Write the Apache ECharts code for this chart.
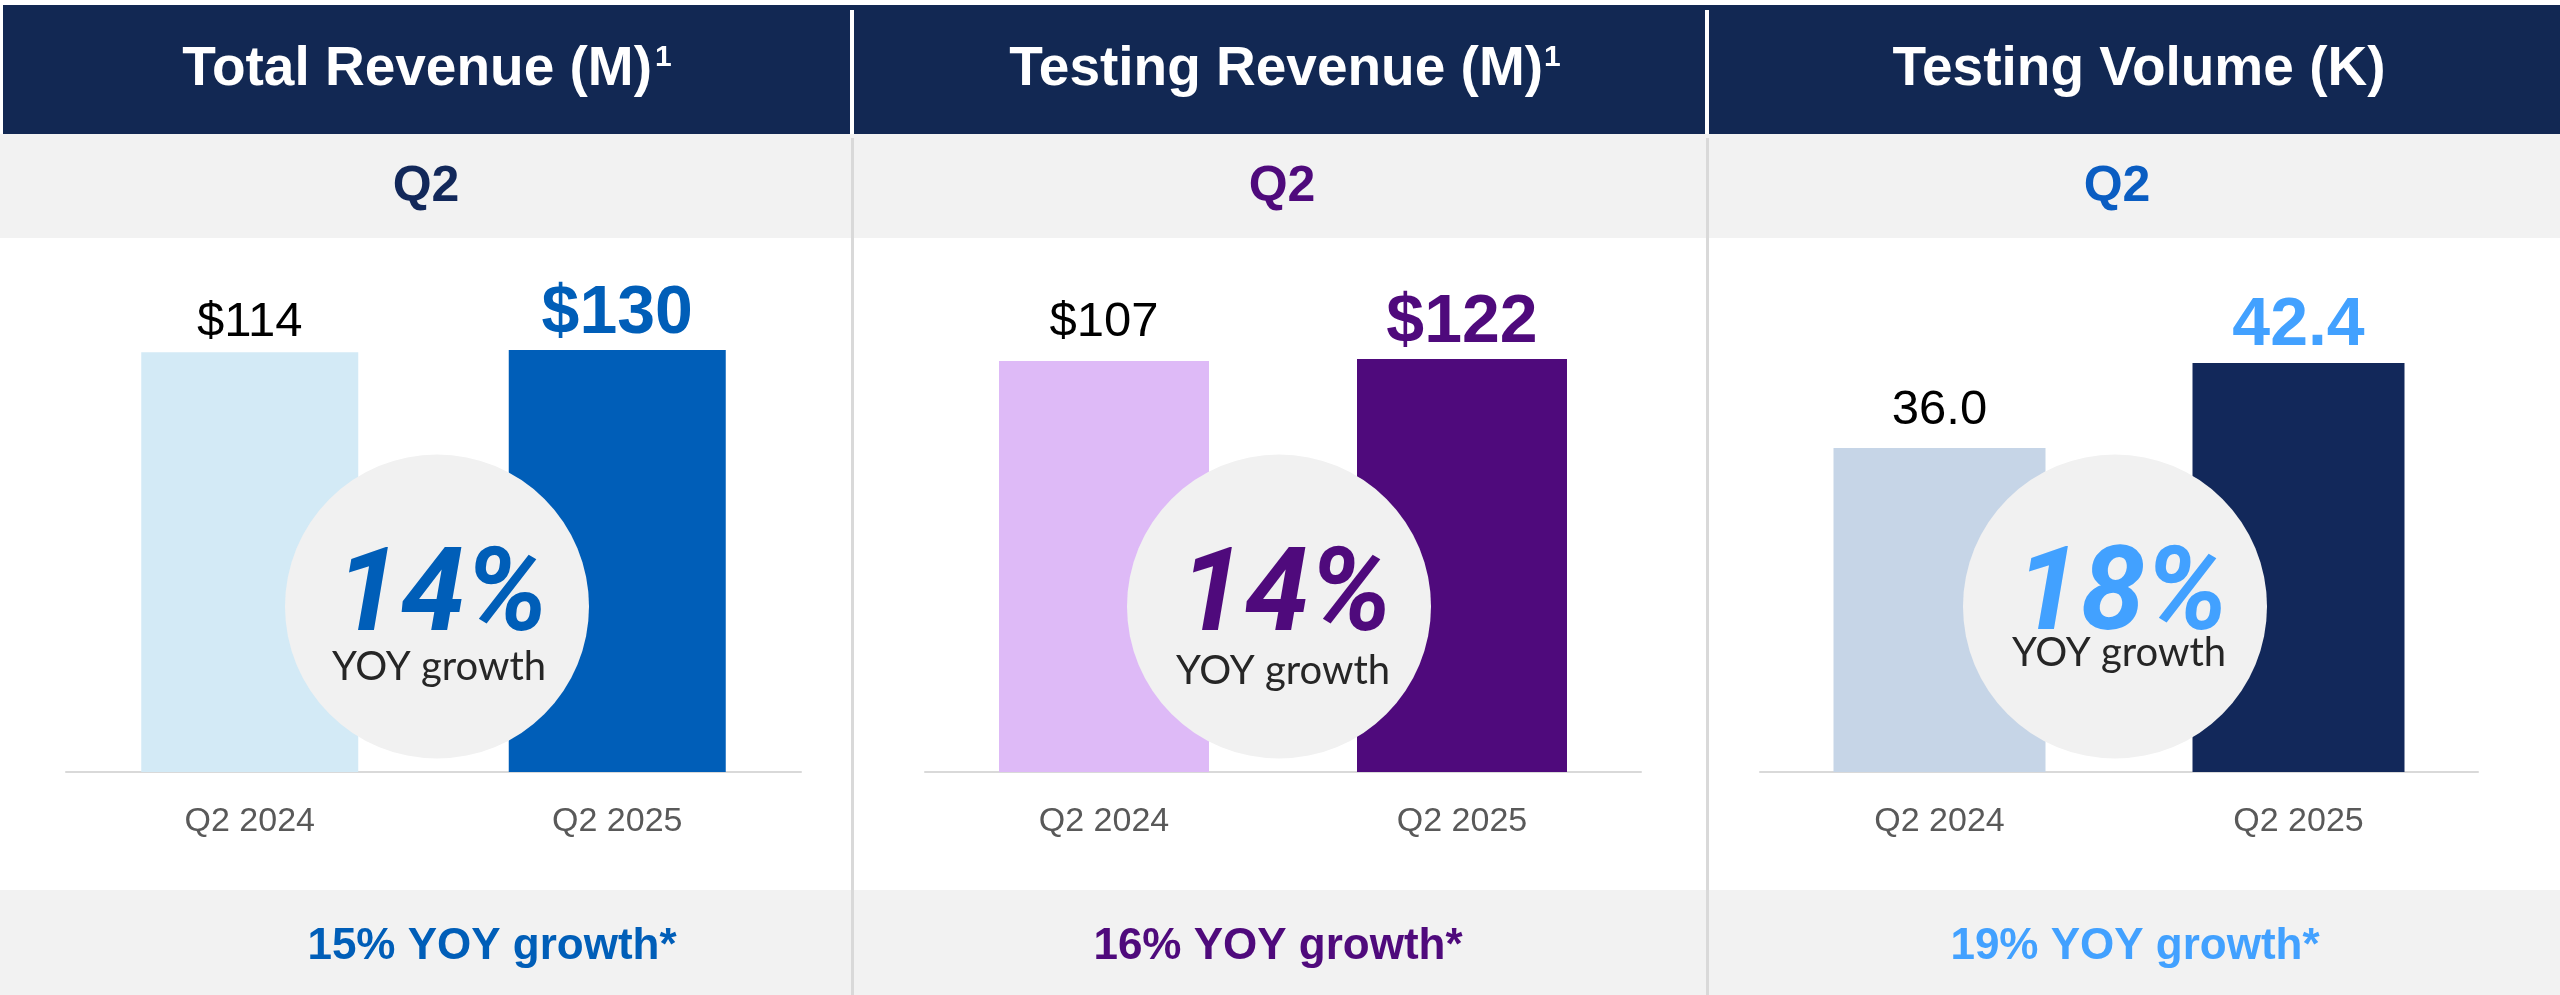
<!DOCTYPE html>
<html><head><meta charset="utf-8">
<script src="https://cdn.jsdelivr.net/npm/echarts@6/dist/echarts.min.js"></script>
<style>html,body{margin:0;padding:0;background:#fff}#c{width:2560px;height:995px}</style>
</head><body><div id="c"></div>
<script>
// ---- data ----
const categories = ['Q2 2024', 'Q2 2025'];
const totalRevenue = [114, 130];
const testingRevenue = [107, 122];
const testingVolume = [36.0, 42.4];
const panelTitles = ['Total Revenue (M)', 'Testing Revenue (M)', 'Testing Volume (K)'];
const titleNotes = ['1', '1', ''];
const periodLabels = ['Q2', 'Q2', 'Q2'];
const quarterGrowth = ['14%', '14%', '18%'];
const growthCaption = 'YOY growth';
const footerGrowth = ['15% YOY growth*', '16% YOY growth*', '19% YOY growth*'];
const valuePrefix = ['$', '$', ''];
const valueDecimals = [0, 0, 1];
const panelData = [totalRevenue, testingRevenue, testingVolume];

// ---- layout / style ----
const FONT = '"Liberation Sans", Arial, Helvetica, sans-serif';
const panels = [
  {gridL: 66, gridW: 735, gridTop: 350, yMin: -3000, barW: 217,
   colors: ['#D3EAF6', '#005EB8'], accent: '#005EB8', qColor: '#12285A', labelDist: [5, 2],
   titleX: 427, supPad: 3, qX: 426, cx: 437, pctX: 442, pctY: 601, capY: 667, footX: 492},
  {gridL: 925, gridW: 716, gridTop: 359, yMin: -3000, barW: 210,
   colors: ['#DEBAF7', '#4F0A7C'], accent: '#4F0A7C', qColor: '#4F0A7C', labelDist: [14, 2],
   titleX: 1285, supPad: 1, qX: 1282, cx: 1279, pctX: 1286, pctY: 601, capY: 671, footX: 1278},
  {gridL: 1760, gridW: 718, gridTop: 363, yMin: 11.6, barW: 212,
   colors: ['#C6D5E7', '#12285A'], accent: '#42A1FF', qColor: '#0A5DC2', labelDist: [13, 3],
   titleX: 2139, supPad: 0, qX: 2117, cx: 2115, pctX: 2122, pctY: 600, capY: 653, footX: 2135}
];
const BASE_Y = 772;   // baseline of bars
const H = 995, W = 2560;
const SMALL_LABEL = 49, BIG_LABEL = 68;

const grids = [], xAxes = [], yAxes = [], series = [], graphics = [];

// backgrounds
graphics.push({type: 'rect', z: 0, shape: {x: 3, y: 5, width: W - 3, height: 129}, style: {fill: '#122853'}, silent: true});
graphics.push({type: 'rect', z: 0, shape: {x: 0, y: 134, width: W, height: 104}, style: {fill: '#F2F2F2'}, silent: true});
graphics.push({type: 'rect', z: 0, shape: {x: 0, y: 890, width: W, height: 105}, style: {fill: '#F2F2F2'}, silent: true});
[850, 1705].forEach(x => {
  graphics.push({type: 'rect', z: 1, shape: {x: x, y: 10, width: 4, height: 124}, style: {fill: '#FFFFFF'}, silent: true});
  graphics.push({type: 'rect', z: 1, shape: {x: x + 1, y: 138, width: 3, height: H - 138}, style: {fill: '#D9D9D9'}, silent: true});
});

function barRenderer(i) {
  const p = panels[i];
  return function (params, api) {
    const j = params.dataIndex;
    const idx = api.value(0), v = api.value(1);
    const top = api.coord([idx, v]);
    const base = api.coord([idx, p.yMin]);
    const big = j === 1;
    return {
      type: 'group',
      children: [
        {type: 'rect', shape: {x: top[0] - p.barW / 2, y: top[1], width: p.barW, height: base[1] - top[1]},
         style: {fill: p.colors[j]}},
        {type: 'text', x: top[0], y: top[1] - p.labelDist[j],
         style: {text: valuePrefix[i] + Number(v).toFixed(valueDecimals[i]), align: 'center', verticalAlign: 'bottom',
                 fontSize: big ? BIG_LABEL : SMALL_LABEL, fontWeight: big ? 'bold' : 'normal', fontFamily: FONT,
                 fill: big ? p.accent : '#000000'}}
      ]
    };
  };
}

panels.forEach((p, i) => {
  const data = panelData[i];
  grids.push({left: p.gridL, width: p.gridW, top: p.gridTop, bottom: H - BASE_Y, containLabel: false});
  xAxes.push({
    type: 'category', gridIndex: i, data: categories,
    axisLine: {show: true, onZero: false, lineStyle: {color: '#D9D9D9', width: 2}},
    axisTick: {show: false},
    axisLabel: {color: '#595959', fontSize: 34, fontFamily: FONT, margin: 33}
  });
  yAxes.push({type: 'value', gridIndex: i, min: p.yMin, max: Math.max(...data), show: false, splitLine: {show: false}});
  series.push({
    type: 'custom', xAxisIndex: i, yAxisIndex: i, silent: true, z: 2,
    renderItem: barRenderer(i),
    encode: {x: 0, y: 1},
    data: data.map((v, j) => [j, v])
  });

  // header title
  const note = titleNotes[i];
  graphics.push({
    type: 'text', z: 5, x: p.titleX, y: 70, silent: true,
    style: {
      text: '{t|' + panelTitles[i] + '}' + (note ? '{s|' + note + '}' : ''),
      align: 'center', verticalAlign: 'middle',
      rich: {
        t: {fontSize: 55, fontWeight: 'bold', fontFamily: FONT, fill: '#FFFFFF', lineHeight: 55},
        s: {fontSize: 30, fontWeight: 'bold', fontFamily: FONT, fill: '#FFFFFF', lineHeight: 30, verticalAlign: 'top', padding: [0, 0, 0, p.supPad]}
      }
    }
  });
  // period label
  graphics.push({type: 'text', z: 5, x: p.qX, y: 187, silent: true,
    style: {text: periodLabels[i], align: 'center', verticalAlign: 'middle', fontSize: 50, fontWeight: 'bold', fontFamily: FONT, fill: p.qColor}});
  // growth circle
  graphics.push({type: 'circle', z: 10, shape: {cx: p.cx, cy: 606.5, r: 152}, style: {fill: '#F1F1F1'}, silent: true});
  graphics.push({type: 'text', z: 11, x: p.pctX, y: p.pctY, silent: true,
    style: {text: quarterGrowth[i], align: 'center', verticalAlign: 'middle', fontSize: 116, fontWeight: 'bold', fontStyle: 'italic', fontFamily: 'Roboto, "Liberation Sans", sans-serif', fill: p.accent}});
  graphics.push({type: 'text', z: 11, x: p.pctX - 3, y: p.capY, silent: true,
    style: {text: growthCaption, align: 'center', verticalAlign: 'middle', fontSize: 40, fontFamily: 'Lato, "Liberation Sans", sans-serif', fill: '#262626'}});
  // footer
  graphics.push({type: 'text', z: 5, x: p.footX, y: 947, silent: true,
    style: {text: footerGrowth[i], align: 'center', verticalAlign: 'middle', fontSize: 44, fontWeight: 'bold', fontFamily: FONT, fill: p.accent}});
});

const chart = echarts.init(document.getElementById('c'), null, {renderer: 'canvas'});
chart.setOption({
  animation: false,
  backgroundColor: '#FFFFFF',
  grid: grids, xAxis: xAxes, yAxis: yAxes, series: series,
  graphic: {elements: graphics}
});
</script>
</body></html>
